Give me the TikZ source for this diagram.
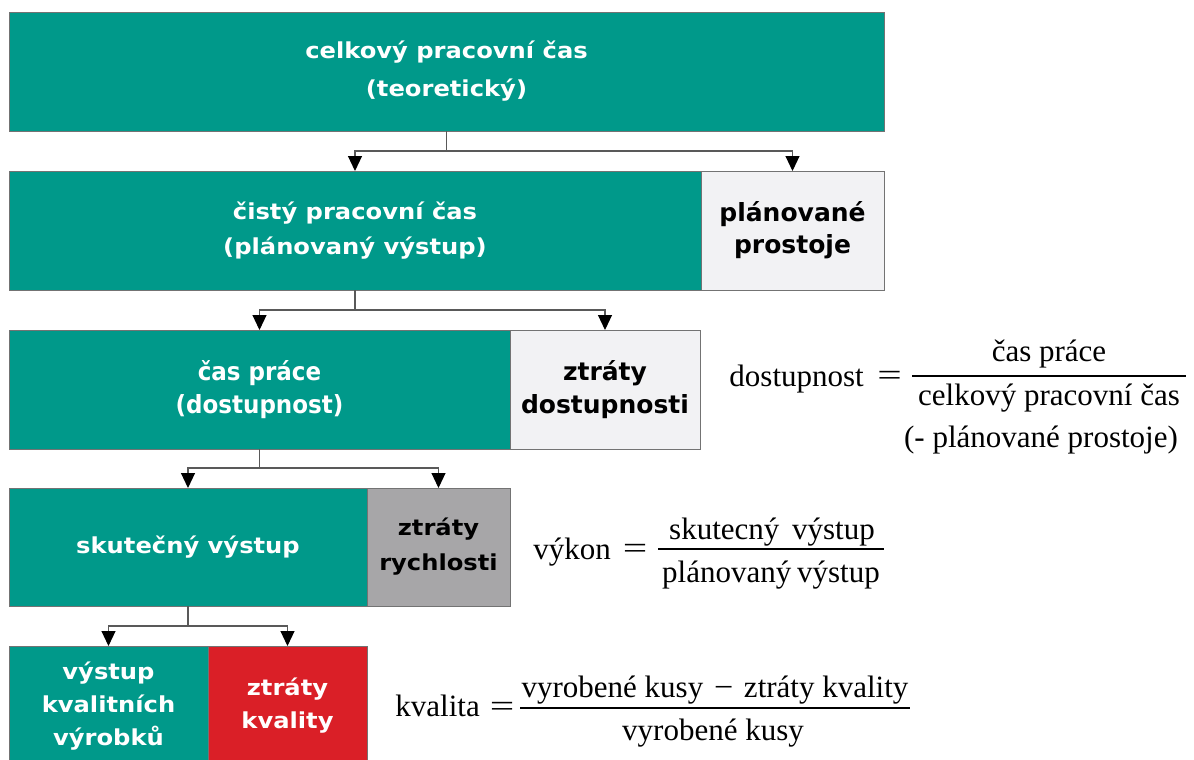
\documentclass[tikz,border=0pt]{standalone}
\usepackage{graphicx}
\usepackage{fontspec}
\setmainfont{Liberation Serif}
\newfontfamily\bx{DejaVu Sans Bold}[FakeStretch=1.1]
\newfontfamily\bxn{DejaVu Sans Bold}[FakeStretch=0.92]
\newfontfamily\bxw{DejaVu Sans Bold}
\usetikzlibrary{arrows.meta}
\definecolor{teal}{HTML}{00998A}
\definecolor{light}{HTML}{F2F2F4}
\definecolor{midgrey}{HTML}{A7A6A8}
\definecolor{qred}{HTML}{DA1F27}
\newcommand{\eqsign}{\scalebox{1.4}[1]{=}}
\newcommand{\minsign}{\scalebox{1.1}[1]{−}}
\tikzset{
  box/.style={draw=black!55, line width=0.7pt, inner sep=0pt, outer sep=0pt,
    anchor=north west, align=center, font=\bx\fontsize{22}{38}\selectfont},
  tealbox/.style={box, fill=teal, text=white},
  lightbox/.style={box, fill=light, text=black},
  greybox/.style={box, fill=midgrey, text=black},
  redbox/.style={box, fill=qred, text=white},
  conn/.style={draw=black!65, line width=1.1pt, -{Triangle[width=14pt,length=15pt,color=black]}},
  ftxt/.style={font=\fontsize{31}{36}\selectfont, inner sep=0pt, anchor=base},
  fbar/.style={line width=1.3pt}
}
\begin{document}
\begin{tikzpicture}[x=1pt,y=-1pt]
\useasboundingbox[fill=white] (0,0) rectangle (1194,760);
% boxes
\node[tealbox, minimum width=875pt, minimum height=119pt] (b1) at (9,12) {celkový pracovní čas\\(teoretický)};
\node[tealbox, minimum width=692pt, minimum height=119pt, font=\bx\fontsize{22}{35}\selectfont] (t2) at (9,171) {čistý pracovní čas\\(plánovaný výstup)};
\node[lightbox, minimum width=183pt, minimum height=119pt, font=\bxw\fontsize{25}{32}\selectfont] (g2) at (701,171) {plánované\\prostoje};
\node[tealbox, minimum width=501pt, minimum height=119pt, font=\bxn\fontsize{25}{33}\selectfont] (t3) at (9,330) {čas práce\\(dostupnost)};
\node[lightbox, minimum width=190pt, minimum height=119pt, font=\bxw\fontsize{25}{33}\selectfont] (g3) at (510,330) {ztráty\\dostupnosti};
\node[tealbox, minimum width=358pt, minimum height=118pt] (t4) at (9,488) {skutečný výstup};
\node[greybox, minimum width=143pt, minimum height=118pt, font=\bx\fontsize{22}{35}\selectfont] (g4) at (367,488) {ztráty\\rychlosti};
\node[tealbox, minimum width=199pt, minimum height=120pt, font=\bx\fontsize{22}{33}\selectfont] (t5) at (9,646) {výstup\\kvalitních\\výrobků};
\node[redbox, minimum width=159pt, minimum height=120pt, font=\bx\fontsize{22}{33}\selectfont] (r5) at (208,646) {ztráty\\kvality};
% connectors
\draw[conn] (b1.south) -- ++(0,20) -| (t2.north);
\draw[conn] (b1.south) -- ++(0,20) -| (g2.north);
\draw[conn] (t2.south) -- ++(0,20) -| (t3.north);
\draw[conn] (t2.south) -- ++(0,20) -| (g3.north);
\draw[conn] (t3.south) -- ++(0,19) -| (t4.north);
\draw[conn] (t3.south) -- ++(0,19) -| (g4.north);
\draw[conn] (t4.south) -- ++(0,20) -| (t5.north);
\draw[conn] (t4.south) -- ++(0,20) -| (r5.north);
% formula: dostupnost
\node[ftxt, anchor=base east] (dl) at (864,386) {dostupnost};
\node[ftxt] (de) at (889.5,385) {\eqsign};
\node[ftxt] (dn) at (1049,361) {čas práce};
\node[ftxt] (dd) at (1049,405) {celkový pracovní čas};
\node[ftxt] (dx) at (1041,447) {(- plánované prostoje)};
\draw[fbar] (912,376) -- (1186,376);
% formula: vykon
\node[ftxt, anchor=base east] (vl) at (611,559) {výkon};
\node[ftxt] (ve) at (635,558) {\eqsign};
\node[ftxt] (vn) at (772,539) {skutecný\hspace{5pt} výstup};
\node[ftxt] (vd) at (771,582) {plánovaný\hspace{-2pt} výstup};
\draw[fbar] (658,549) -- (884,549);
% formula: kvalita
\node[ftxt, anchor=base east] (kl) at (480,716) {kvalita};
\node[ftxt] (ke) at (502,716) {\eqsign};
\node[ftxt] (kn) at (715,697) {vyrobené kusy\hspace{3pt} \minsign\hspace{3pt} ztráty kvality};
\node[ftxt] (kd) at (713,740) {vyrobené kusy};
\draw[fbar] (520,708) -- (910,708);
\end{tikzpicture}
\end{document}
